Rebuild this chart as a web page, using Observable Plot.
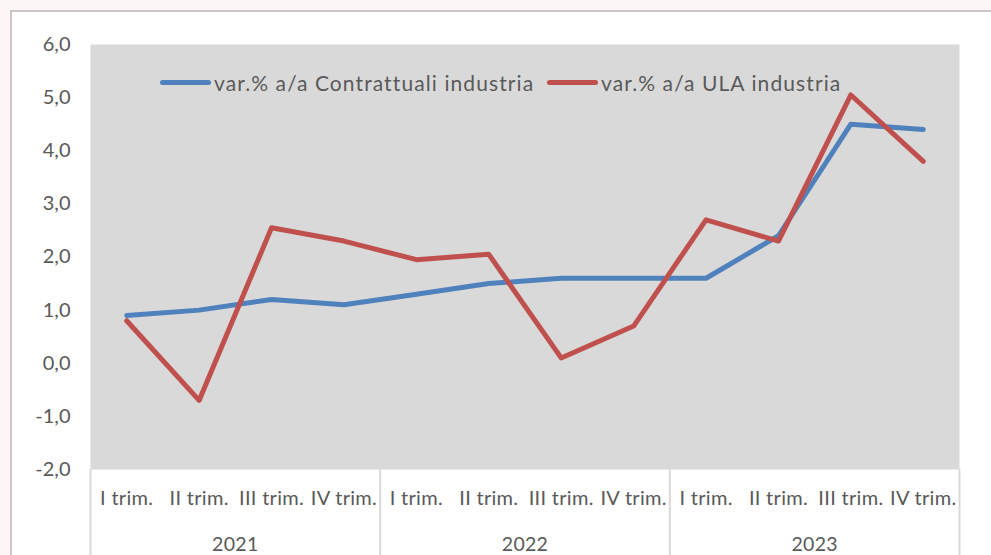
<!DOCTYPE html>
<html>
<head>
<meta charset="utf-8">
<script src="https://cdn.jsdelivr.net/npm/d3@7"></script>
<script src="https://cdn.jsdelivr.net/npm/@observablehq/plot@0.6"></script>
<style>
  html, body { margin: 0; padding: 0; width: 991px; height: 555px; overflow: hidden; background: #fcf7f5; font-family: Lato, "Liberation Sans", sans-serif; }
  #sheet { position: absolute; left: 10px; top: 10px; width: 1000px; height: 600px; border: 2px solid #c8c8c8; background: #ffffff; }
  #chart { position: absolute; left: 0; top: 0; }
  #chart g[aria-label="text"] text { letter-spacing: 0.3px; }
  #legend { position: absolute; left: 0; top: 0; width: 991px; height: 0; }
  .item { position: absolute; top: 70px; height: 24px; display: flex; align-items: center; color: #595959; font-size: 21px; letter-spacing: 1.1px; white-space: nowrap; }
  .sw { width: 51px; height: 5px; border-radius: 3px; margin-right: 3px; }
</style>
</head>
<body>
<div id="sheet"></div>
<div id="chart"></div>
<div id="legend"></div>
<script>
const quarters = ["I trim.", "II trim.", "III trim.", "IV trim."];
const years = ["2021", "2022", "2023"];
const contrattuali = [0.9, 1.0, 1.2, 1.1, 1.3, 1.5, 1.6, 1.6, 1.6, 2.4, 4.5, 4.4];
const ula = [0.8, -0.7, 2.55, 2.3, 1.95, 2.05, 0.1, 0.7, 2.7, 2.3, 5.05, 3.8];
const seriesNames = ["var.% a/a Contrattuali industria", "var.% a/a ULA industria"];
const seriesColors = ["#4f81bd", "#c0504d"];
const yTicks = [-2, -1, 0, 1, 2, 3, 4, 5, 6];

const periods = years.flatMap((y, yi) => quarters.map((q, qi) => ({i: yi * 4 + qi, year: y, quarter: q})));
const data = [
  ...periods.map((p, k) => ({...p, v: contrattuali[k], series: seriesNames[0]})),
  ...periods.map((p, k) => ({...p, v: ula[k], series: seriesNames[1]}))
];
const yearGroups = years.map((y, yi) => ({year: y, mid: yi * 4 + 1.5}));
const separators = [-0.5, ...years.map((y, yi) => yi * 4 + 3.5)];

const chart = Plot.plot({
  width: 991,
  height: 555,
  marginLeft: 90,
  marginRight: 32,
  marginTop: 44,
  marginBottom: 86,
  x: {domain: [-0.5, 11.5], axis: null},
  y: {domain: [-2, 6], axis: null},
  color: {domain: seriesNames, range: seriesColors},
  style: {background: "transparent", fontFamily: "Lato, 'Liberation Sans', sans-serif", color: "#595959"},
  marks: [
    Plot.frame({fill: "#d9d9d9", stroke: null}),
    Plot.axisY(yTicks, {label: null, tickSize: 0, tickPadding: 20, tickFormat: d => d.toFixed(1).replace(".", ","), fontSize: 20, fill: "#595959"}),
    Plot.ruleX(separators, {x: d => d, y1: -2, y2: -3.8, stroke: "#d9d9d9", strokeWidth: 2}),
    Plot.text(periods, {x: "i", text: "quarter", frameAnchor: "bottom", lineAnchor: "middle", dy: 29, fontSize: 20, fill: "#595959"}),
    Plot.text(yearGroups, {x: "mid", text: "year", frameAnchor: "bottom", lineAnchor: "middle", dy: 75, fontSize: 19.5, fill: "#595959"}),
    Plot.line(data, {x: "i", y: "v", z: "series", stroke: "series", strokeWidth: 5, strokeLinecap: "round", strokeLinejoin: "round"})
  ]
});
document.getElementById("chart").appendChild(chart);

const legend = document.getElementById("legend");
const legendLeft = [160, 547];
seriesNames.forEach((name, k) => {
  const item = document.createElement("div");
  item.className = "item";
  item.style.left = legendLeft[k] + "px";
  const sw = document.createElement("div");
  sw.className = "sw";
  sw.style.background = seriesColors[k];
  const label = document.createElement("span");
  label.textContent = name;
  item.appendChild(sw);
  item.appendChild(label);
  legend.appendChild(item);
});
</script>
</body>
</html>
